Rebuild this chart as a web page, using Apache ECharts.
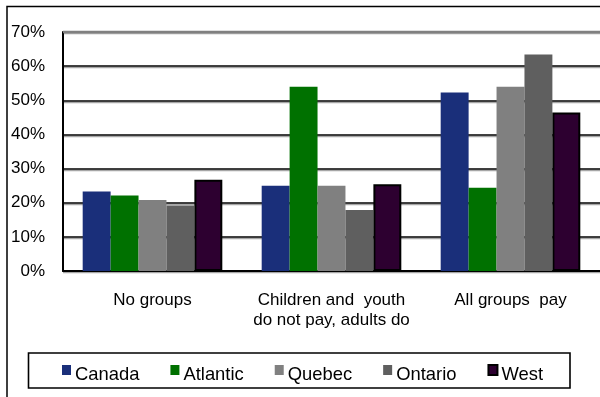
<!DOCTYPE html>
<html>
<head>
<meta charset="utf-8">
<style>
  html, body { margin: 0; padding: 0; background: #fff; }
  #chart { width: 600px; height: 397px; }
</style>
<script src="https://cdn.jsdelivr.net/npm/echarts@6/dist/echarts.min.js"></script>
</head>
<body>
<div id="chart"></div>
<script>
// Who pays a fee, share of respondents by region
const categories = ['No groups', 'Children and  youth\ndo not pay, adults do', 'All groups  pay'];
const canada   = [23.3, 25.0, 52.3];
const atlantic = [22.1, 54.0, 24.4];
const quebec   = [20.8, 25.0, 54.0];
const ontario  = [19.2, 17.9, 63.4];
const west     = [26.7, 25.4, 46.4];
const yTicks = [0, 10, 20, 30, 40, 50, 60, 70];

const FONT = '"Liberation Sans", Arial, sans-serif';

const regions = [
  { name: 'Canada',   data: canada,   color: '#1a2f7a' },
  { name: 'Atlantic', data: atlantic, color: '#007100' },
  { name: 'Quebec',   data: quebec,   color: '#808080' },
  { name: 'Ontario',  data: ontario,  color: '#5f5f5f' },
  { name: 'West',     data: west,     color: '#2d0030', border: true }
];

const yMax = yTicks[yTicks.length - 1];

const chart = echarts.init(document.getElementById('chart'), null, { renderer: 'canvas' });

chart.setOption({
  animation: false,
  backgroundColor: '#fff',
  textStyle: { fontFamily: FONT, color: '#000' },
  grid: { left: 63, top: 32, width: 540, height: 239, containLabel: false },
  xAxis: {
    type: 'category',
    data: categories,
    axisTick: { show: false },
    axisLine: { lineStyle: { color: '#000', width: 2 } },
    axisLabel: {
      color: '#000', fontSize: 17, fontFamily: FONT,
      margin: 19, lineHeight: 20, interval: 0
    }
  },
  yAxis: {
    type: 'value',
    min: yTicks[0],
    max: yMax,
    interval: 10,
    axisLine: { show: true, lineStyle: { color: '#000', width: 2 } },
    axisTick: { show: false },
    axisLabel: { color: '#000', fontSize: 17, fontFamily: FONT, margin: 18, formatter: '{value}%' },
    splitLine: {
      show: true,
      lineStyle: { color: '#000', width: 1.6, shadowColor: 'rgba(0,0,0,0.35)', shadowOffsetY: 1.5, shadowBlur: 0 }
    }
  },
  legend: {
    left: 62,
    top: 364,
    padding: 0,
    itemWidth: 9,
    itemHeight: 10,
    itemGap: 31,
    icon: 'rect',
    formatter: '{t|{name}}',
    textStyle: {
      fontSize: 18.4, fontFamily: FONT, color: '#000',
      rich: { t: { fontSize: 18.4, fontFamily: FONT, color: '#000', padding: [10, 0, 0, -1] } }
    },
    data: regions.map(r => r.name)
  },
  graphic: [
    {
      type: 'rect', silent: true, z: -1,
      shape: { x: 7, y: 6.5, width: 620, height: 420 },
      style: { fill: null, stroke: '#000', lineWidth: 1.5 }
    },
    {
      type: 'rect', silent: true, z: -1,
      shape: { x: 28.5, y: 353, width: 541.5, height: 35 },
      style: { fill: null, stroke: '#000', lineWidth: 1.6 }
    }
  ],
  series: regions.map((r, i) => {
    const s = {
      name: r.name,
      type: 'bar',
      data: r.data,
      barGap: '0%',
      barCategoryGap: '22%',
      itemStyle: r.border
        ? { color: r.color, borderColor: '#000', borderWidth: 2 }
        : { color: r.color }
    };
    if (i === 0) {
      // lighter rule along the top of the value range
      s.markLine = {
        silent: true,
        symbol: 'none',
        label: { show: false },
        lineStyle: { color: '#808080', width: 2.4, type: 'solid' },
        data: [{ yAxis: yMax }]
      };
    }
    return s;
  })
});
</script>
</body>
</html>
